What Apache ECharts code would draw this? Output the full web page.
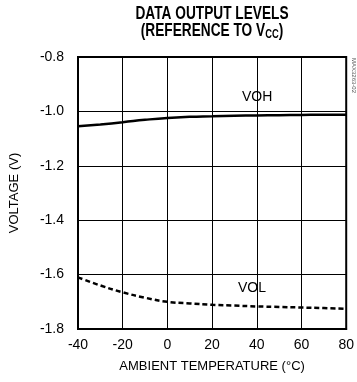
<!DOCTYPE html>
<html>
<head>
<meta charset="utf-8">
<script src="https://cdn.jsdelivr.net/npm/echarts@6/dist/echarts.min.js"></script>
<style>
  html, body { margin: 0; padding: 0; background: #fff; }
  #chart { width: 357px; height: 382px; }
</style>
</head>
<body>
<div id="chart"></div>
<script>
const temps = [-40, -30, -20, -10, 0, 10, 20, 30, 40, 50, 60, 70, 80];
const voh = [-1.055, -1.048, -1.040, -1.031, -1.024, -1.020, -1.018, -1.016, -1.015, -1.014, -1.013, -1.012, -1.012];
const vol = [-1.610, -1.640, -1.665, -1.685, -1.700, -1.706, -1.711, -1.714, -1.717, -1.719, -1.721, -1.723, -1.726];

const font = '"Liberation Sans Narrow", "Liberation Sans", sans-serif';

const chart = echarts.init(document.getElementById('chart'));

chart.setOption({
    animation: false,
    textStyle: { fontFamily: font, color: '#000' },
    grid: {
        left: 75,
        right: 9,
        top: 57,
        bottom: 53,
        show: true,
        borderColor: '#000',
        borderWidth: 2,
    },
    xAxis: {
        type: 'value',
        min: -40,
        max: 80,
        interval: 20,
        name: 'AMBIENT TEMPERATURE (°C)',
        nameLocation: 'middle',
        nameGap: 31,
        nameTextStyle: { fontFamily: font, fontSize: 13, color: '#000' },
        axisLine: { onZero: false, lineStyle: { color: '#000', width: 2 } },
        axisTick: { show: false },
        axisLabel: { fontFamily: font, fontSize: 14, color: '#000', margin: 9 },
        splitLine: { lineStyle: { color: '#000', width: 1 } },
    },
    yAxis: {
        type: 'value',
        min: -1.8,
        max: -0.8,
        interval: 0.2,
        name: 'VOLTAGE (V)',
        nameLocation: 'middle',
        nameGap: 57,
        nameTextStyle: { fontFamily: font, fontSize: 13, color: '#000' },
        axisLine: { show: true, onZero: false, lineStyle: { color: '#000', width: 2 } },
        axisTick: { show: false },
        axisLabel: {
            fontFamily: font,
            fontSize: 14,
            color: '#000',
            margin: 14,
            formatter: (v) => v.toFixed(1),
        },
        splitLine: { lineStyle: { color: '#000', width: 1 } },
    },
    series: [
        {
            name: 'VOH',
            type: 'line',
            smooth: true,
            symbol: 'none',
            data: temps.map((t, i) => [t, voh[i]]),
            lineStyle: { color: '#000', width: 2.5 },
        },
        {
            name: 'VOL',
            type: 'line',
            smooth: true,
            symbol: 'none',
            data: temps.map((t, i) => [t, vol[i]]),
            lineStyle: { color: '#000', width: 2.5, type: [5, 3] },
        },
    ],
    graphic: [
        // title, squeezed horizontally to look like the condensed original
        {
            type: 'group',
            x: 212,
            y: 0,
            scaleX: 0.72,
            children: [
                {
                    type: 'text',
                    x: 0,
                    y: 4,
                    style: {
                        text: 'DATA OUTPUT LEVELS',
                        align: 'center',
                        fontFamily: '"Liberation Sans", sans-serif',
                        fontWeight: 'bold',
                        fontSize: 19,
                        fill: '#000',
                    },
                },
                {
                    type: 'text',
                    x: 0,
                    y: 21,
                    style: {
                        text: '{a|(REFERENCE TO V}{s|CC}{a|)}',
                        align: 'center',
                        rich: {
                            a: { fontFamily: '"Liberation Sans", sans-serif', fontWeight: 'bold', fontSize: 19, fill: '#000' },
                            s: { fontFamily: '"Liberation Sans", sans-serif', fontWeight: 'bold', fontSize: 13, fill: '#000', padding: [7, 0, 0, 0] },
                        },
                    },
                },
            ],
        },
        {
            type: 'text',
            left: 242,
            top: 90,
            style: { text: 'VOH', fontFamily: font, fontSize: 14, fill: '#000' },
        },
        {
            type: 'text',
            left: 238,
            top: 281,
            style: { text: 'VOL', fontFamily: font, fontSize: 14, fill: '#000' },
        },
        {
            type: 'text',
            x: 357,
            y: 58,
            rotation: -Math.PI / 2,
            style: { text: 'MAX3263-02', fontFamily: font, fontSize: 6, fill: '#555' },
        },
    ],
});
</script>
</body>
</html>
